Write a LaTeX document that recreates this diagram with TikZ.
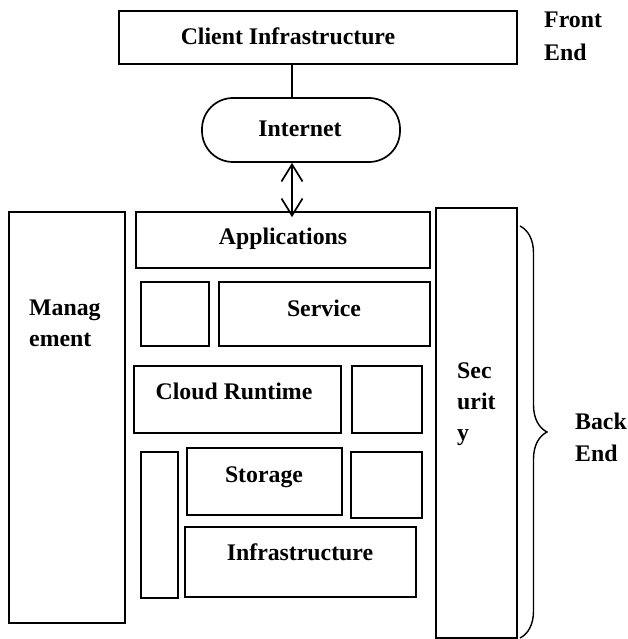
\documentclass[tikz,border=0pt]{standalone}
\usepackage{fontspec}
\setmainfont{Liberation Serif}
\usetikzlibrary{fit,arrows.meta,decorations.pathreplacing}
\tikzset{
  box/.style={draw, line width=1.7pt, inner sep=0pt},
  pill/.style={box, rounded corners=31pt},
  txt/.style={inner sep=0pt, font=\bfseries\fontsize{23.8}{31}\selectfont},
  mtxt/.style={txt, align=left, anchor=north west},
  link/.style={line width=1.7pt},
  dbl/.style={line width=1.7pt, {Straight Barb[length=17pt,width=21pt]}-{Straight Barb[length=17pt,width=21pt]}},
  bracestyle/.style={line width=1.4pt, decorate, decoration={brace, amplitude=27pt}}
}
\begin{document}
\begin{tikzpicture}[x=1pt,y=-1pt]
\useasboundingbox (0,0) rectangle (627,639);
% front end
\node[box, fit={(119,11) (517,64)}] (client) {};
\node[txt, anchor=base] (tclient) at (288,45) {Client Infrastructure};
\node[pill, fit={(202,98) (400,162)}] (inet) {};
\node[txt, anchor=base] (tinet) at (300,136.5) {Internet};
\coordinate (cx) at (292,0);
\draw[link] (client.south -| cx) -- (inet.north -| cx);
% back end boxes
\node[box, fit={(9,212) (125,623)}] (mgmt) {};
\node[mtxt, font=\bfseries\fontsize{23.8}{31}\selectfont] (tmgmt) at (29,300) {Manag\\ement};
\node[box, fit={(136,212) (430,268)}] (apps) {};
\node[txt, anchor=base] (tapps) at (283,244) {Applications};
\node[box, fit={(141,282) (209,346)}] (sb1) {};
\node[box, fit={(219,282) (430,346)}] (serv) {};
\node[txt, anchor=base] (tserv) at (324,316) {Service};
\node[box, fit={(134,366) (341,433)}] (cloud) {};
\node[txt, anchor=base] (tcloud) at (234,399) {Cloud Runtime};
\node[box, fit={(352,366) (422,433)}] (sb2) {};
\node[box, fit={(141,452) (178,598)}] (thin) {};
\node[box, fit={(187,448) (342,515)}] (stor) {};
\node[txt, anchor=base] (tstor) at (264,482.5) {Storage};
\node[box, fit={(351,452) (422,518)}] (sb3) {};
\node[box, fit={(185,527) (416,597)}] (infra) {};
\node[txt, anchor=base] (tinfra) at (300,560) {Infrastructure};
\node[box, fit={(436,208) (517,638)}] (sec) {};
\node[mtxt, font=\bfseries\fontsize{23.8}{31}\selectfont] (tsec) at (457,363) {Sec\\urit\\y};
\draw[dbl] (inet.south -| cx) -- ([yshift=-6pt]apps.north -| cx);
% labels
\node[mtxt, font=\bfseries\fontsize{23.8}{33}\selectfont] (front) at (544,12) {Front\\End};
\coordinate (bt) at (520,226);
\coordinate (bb) at (520,638);
\draw[bracestyle] (bt) -- (bb);
\node[mtxt, font=\bfseries\fontsize{23.8}{32}\selectfont] (back) at (575,413) {Back\\End};
\end{tikzpicture}
\end{document}
